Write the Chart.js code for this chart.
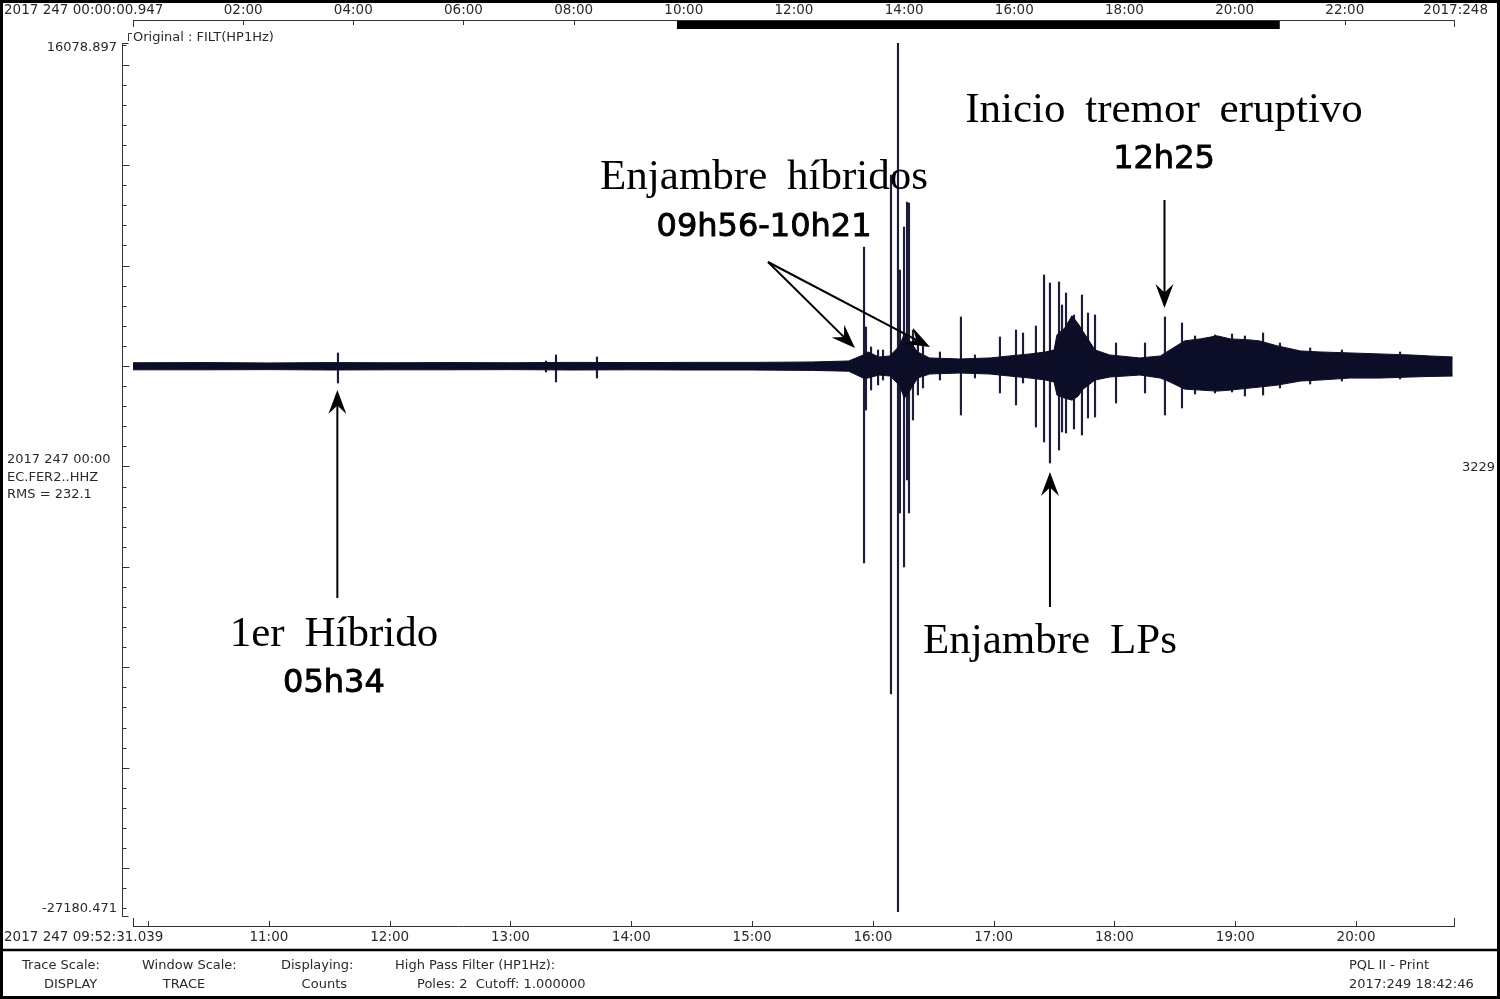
<!DOCTYPE html>
<html>
<head>
<meta charset="utf-8">
<script src="https://cdn.jsdelivr.net/npm/chart.js@4.4.0/dist/chart.umd.min.js"></script>
<style>
  html, body { margin: 0; padding: 0; background: #fff; }
</style>
</head>
<body>
<canvas id="chart" width="1500" height="999"></canvas>
<script>
// time in hours UTC (day 247), amplitude in counts
const startHour = 9.8753;   // 09:52:31.039
const endHour = 20.819;
const yMax = 16078.897;
const yMin = -27180.471;

// envelope of the continuous trace
const envTimes = [9.8753, 10.5, 11.0, 11.5, 12.0, 12.5, 13.0, 13.5, 14.0, 14.5, 15.0, 15.5, 15.8,
  15.92, 15.96, 16.05, 16.14, 16.22, 16.26, 16.30, 16.37, 16.47, 16.72, 16.97, 17.13, 17.30, 17.43,
  17.50, 17.524, 17.59, 17.648, 17.70, 17.731, 17.839, 17.96, 18.21, 18.38, 18.46, 18.58, 18.71,
  18.85, 18.96, 19.12, 19.20, 19.35, 19.54, 19.70, 19.95, 20.20, 20.45, 20.61, 20.80];
const envUpper = [160, 170, 150, 170, 160, 170, 160, 180, 170, 180, 180, 200, 250,
  550, 700, 450, 500, 1000, 1600, 1300, 700, 400, 350, 400, 500, 600, 700,
  800, 1550, 1900, 2500, 2100, 1800, 800, 550, 400, 500, 800, 1250, 1350,
  1500, 1350, 1300, 1250, 1000, 750, 700, 650, 600, 550, 500, 450];
const envLower = [-190, -190, -180, -200, -190, -190, -180, -200, -190, -200, -200, -220, -260,
  -600, -600, -450, -500, -950, -1600, -1300, -600, -400, -350, -400, -500, -600, -700,
  -800, -1450, -1600, -1700, -1500, -1200, -700, -550, -450, -600, -800, -1150, -1200,
  -1250, -1200, -1100, -1050, -950, -750, -700, -600, -600, -550, -520, -500];

// individual spikes (events)
const spikeTimes = [11.572, 13.294, 13.377, 13.716, 15.927, 15.943, 15.985, 16.043, 16.084, 16.150,
  16.208, 16.224, 16.258, 16.283, 16.299, 16.332, 16.373, 16.415, 16.555, 16.729, 16.845,
  17.052, 17.185, 17.243, 17.350, 17.417, 17.466, 17.541, 17.566, 17.599, 17.665, 17.731,
  17.781, 17.839, 18.013, 18.253, 18.418, 18.559, 18.667, 18.832, 18.973, 19.080, 19.230,
  19.370, 19.620, 19.883, 20.364];
const spikeTop = [647, 249, 548, 448, 5924, 1941, 946, 796, 796, 9508,
  16078.897, 4779, 6919, 8164, 8114, 1792, 1294, 1045, 697, 2439, 548,
  1444, 1792, 1643, 1991, 4530, 4132, 4182, 3037, 3634, 2539, 3534,
  2638, 2539, 1145, 1145, 2439, 2141, 1493, 1543, 1593, 1493, 1643,
  1145, 896, 796, 697];
const spikeBottom = [-846, -299, -796, -597, -9807, -2190, -1195, -946, -697, -16328,
  -27180.471, -7318, -10006, -5675, -7318, -2688, -1444, -1095, -697, -2439, -597,
  -1344, -1941, -846, -3037, -3783, -4829, -4182, -3285, -3335, -3136, -3435,
  -2589, -2539, -1842, -1344, -2439, -2091, -1394, -1344, -1294, -1493, -1444,
  -1095, -896, -747, -647];

// axis ticks
const topTickHours = [2, 4, 6, 8, 10, 12, 14, 16, 18, 20, 22];
const topTickLabels = ["02:00", "04:00", "06:00", "08:00", "10:00", "12:00", "14:00", "16:00", "18:00", "20:00", "22:00"];
const bottomTickHours = [10, 11, 12, 13, 14, 15, 16, 17, 18, 19, 20];
const bottomTickLabels = ["", "11:00", "12:00", "13:00", "14:00", "15:00", "16:00", "17:00", "18:00", "19:00", "20:00"];

// annotations (hour, counts)
const notes = [
  { text: "1er Híbrido", sub: "05h34", x: 11.539, y: -13391, ySub: -15830 },
  { text: "Enjambre híbridos", sub: "09h56-10h21", x: 15.099, y: 9359, ySub: 6870 },
  { text: "Inicio tremor eruptivo", sub: "12h25", x: 18.410, y: 12694, ySub: 10255 },
  { text: "Enjambre LPs", sub: "", x: 17.466, y: -13739, ySub: 0 }
];
const arrows = [
  [11.567, -11549, 11.567, -1195],
  [15.132, 5177, 15.852, 896],
  [15.132, 5177, 16.473, 946],
  [17.466, -11997, 17.466, -5277],
  [18.414, 8263, 18.414, 2887]
];

const traceColor = "#0c0d26";
const textColor = "#2a2a2a";
const sans = "'DejaVu Sans', sans-serif";

function drawArrow(ctx, x1, y1, x2, y2) {
  const ang = Math.atan2(y2 - y1, x2 - x1);
  const L = 24, W = 9;
  ctx.save();
  ctx.strokeStyle = "#000";
  ctx.fillStyle = "#000";
  ctx.lineWidth = 2;
  ctx.beginPath();
  ctx.moveTo(x1, y1);
  ctx.lineTo(x2 - Math.cos(ang) * L * 0.6, y2 - Math.sin(ang) * L * 0.6);
  ctx.stroke();
  ctx.translate(x2, y2);
  ctx.rotate(ang);
  ctx.beginPath();
  ctx.moveTo(0, 0);
  ctx.lineTo(-L, -W);
  ctx.lineTo(-L * 0.65, 0);
  ctx.lineTo(-L, W);
  ctx.closePath();
  ctx.fill();
  ctx.restore();
}

const seismoFrame = {
  id: "seismoFrame",
  beforeDraw(chart) {
    const ctx = chart.ctx;
    ctx.save();
    ctx.fillStyle = "#fff";
    ctx.fillRect(0, 0, chart.width, chart.height);
    ctx.restore();
  },
  afterDraw(chart) {
    const ctx = chart.ctx;
    const x = chart.scales.x, xd = chart.scales.xDay, y = chart.scales.y;
    const area = chart.chartArea;
    const L = Math.round(area.left), R = Math.round(area.right);
    ctx.save();
    ctx.lineWidth = 1;
    ctx.strokeStyle = "#333";
    ctx.fillStyle = textColor;
    ctx.font = "13.5px " + sans;
    ctx.textBaseline = "middle";

    // top day ruler
    ctx.beginPath();
    ctx.moveTo(L, 20.5); ctx.lineTo(R, 20.5);
    ctx.moveTo(L + 0.5, 20); ctx.lineTo(L + 0.5, 27);
    ctx.moveTo(R - 0.5, 20); ctx.lineTo(R - 0.5, 27);
    topTickHours.forEach(h => {
      const px = Math.round(xd.getPixelForValue(h)) + 0.5;
      ctx.moveTo(px, 20); ctx.lineTo(px, 25);
    });
    ctx.stroke();
    ctx.fillStyle = "#000";
    const b0 = xd.getPixelForValue(startHour), b1 = xd.getPixelForValue(endHour);
    ctx.fillRect(b0, 21, b1 - b0, 8);
    ctx.fillStyle = textColor;
    ctx.textAlign = "center";
    topTickHours.forEach((h, i) => ctx.fillText(topTickLabels[i], xd.getPixelForValue(h), 10));
    ctx.textAlign = "left";
    ctx.fillText("2017 247 00:00:00.947", 4, 10);
    ctx.textAlign = "right";
    ctx.fillText("2017:248", 1488, 10);

    // y axis
    const ax = 122.5;
    const yt = Math.round(y.getPixelForValue(yMax)), yb = Math.round(y.getPixelForValue(yMin));
    ctx.beginPath();
    ctx.moveTo(ax, yt); ctx.lineTo(ax, yb + 5);
    ctx.moveTo(ax, yt + 0.5); ctx.lineTo(ax + 6, yt + 0.5);
    ctx.moveTo(ax, yb + 4.5); ctx.lineTo(ax + 6, yb + 4.5);
    for (let v = -27000; v <= 16000; v += 1000) {
      const py = Math.round(y.getPixelForValue(v)) + 0.5;
      ctx.moveTo(ax, py); ctx.lineTo(ax + (v % 5000 === 0 ? 7 : 4), py);
    }
    // small bracket before trace title
    ctx.moveTo(128.5, 41); ctx.lineTo(128.5, 33.5); ctx.lineTo(132, 33.5);
    ctx.stroke();
    ctx.font = "13px " + sans;
    ctx.textAlign = "right";
    ctx.fillText("16078.897", 117, yt + 5);
    ctx.fillText("-27180.471", 117, yb - 3);
    ctx.fillText("3229", 1495, 468);
    ctx.textAlign = "left";
    ctx.fillText("Original : FILT(HP1Hz)", 133, 38);
    ctx.fillText("2017 247 00:00", 7, 460);
    ctx.fillText("EC.FER2..HHZ", 7, 478);
    ctx.fillText("RMS = 232.1", 7, 495);

    // bottom time axis
    ctx.font = "13.5px " + sans;
    const by = 926.5;
    ctx.beginPath();
    ctx.moveTo(L, by); ctx.lineTo(R, by);
    ctx.moveTo(L + 0.5, by); ctx.lineTo(L + 0.5, 918);
    ctx.moveTo(R - 0.5, by); ctx.lineTo(R - 0.5, 918);
    bottomTickHours.forEach(h => {
      const px = Math.round(x.getPixelForValue(h)) + 0.5;
      ctx.moveTo(px, by); ctx.lineTo(px, 921);
    });
    ctx.stroke();
    ctx.textAlign = "center";
    bottomTickHours.forEach((h, i) => {
      if (bottomTickLabels[i]) ctx.fillText(bottomTickLabels[i], x.getPixelForValue(h), 937);
    });
    ctx.textAlign = "left";
    ctx.fillText("2017 247 09:52:31.039", 4, 937);

    // footer
    ctx.strokeStyle = "#000";
    ctx.lineWidth = 2.5;
    ctx.beginPath();
    ctx.moveTo(0, 950); ctx.lineTo(1500, 950);
    ctx.stroke();
    ctx.lineWidth = 3;
    ctx.strokeRect(1.5, 1.5, 1497, 996);
    ctx.font = "13px " + sans;
    ctx.textAlign = "left";
    ctx.fillText("Trace Scale:", 22, 966);
    ctx.fillText("Window Scale:", 142, 966);
    ctx.fillText("Displaying:", 281, 966);
    ctx.fillText("High Pass Filter (HP1Hz):", 395, 966);
    ctx.fillText("PQL II - Print", 1349, 966);
    ctx.fillText("DISPLAY", 44, 985);
    ctx.fillText("Poles: 2  Cutoff: 1.000000", 417, 985);
    ctx.fillText("2017:249 18:42:46", 1349, 985);
    ctx.textAlign = "center";
    ctx.fillText("TRACE", 184, 985);
    ctx.textAlign = "right";
    ctx.fillText("Counts", 347, 985);

    // annotations
    arrows.forEach(a => drawArrow(ctx, x.getPixelForValue(a[0]), y.getPixelForValue(a[1]),
      x.getPixelForValue(a[2]), y.getPixelForValue(a[3])));
    ctx.fillStyle = "#000";
    ctx.strokeStyle = "#000";
    ctx.textAlign = "center";
    notes.forEach(n => {
      ctx.font = "43px 'Liberation Serif', serif";
      ctx.wordSpacing = "9px";
      ctx.fillText(n.text, x.getPixelForValue(n.x), y.getPixelForValue(n.y));
      ctx.wordSpacing = "0px";
      if (n.sub) {
        ctx.font = "32px " + sans;
        ctx.lineWidth = 0.9;
        ctx.fillText(n.sub, x.getPixelForValue(n.x), y.getPixelForValue(n.ySub));
        ctx.strokeText(n.sub, x.getPixelForValue(n.x), y.getPixelForValue(n.ySub));
      }
    });
    ctx.restore();
  }
};

const ctx = document.getElementById("chart");

const config = {
  type: "bar",
  data: {
    datasets: [{
      type: "line",
      label: "upper",
      data: envTimes.map((t, i) => ({ x: t, y: envUpper[i] })),
      borderColor: traceColor,
      backgroundColor: traceColor,
      borderWidth: 1,
      pointRadius: 0,
      tension: 0,
      fill: "+1"
    }, {
      type: "line",
      label: "lower",
      data: envTimes.map((t, i) => ({ x: t, y: envLower[i] })),
      borderColor: traceColor,
      borderWidth: 1,
      pointRadius: 0,
      tension: 0,
      fill: false
    }, {
      type: "bar",
      label: "spikes",
      data: spikeTimes.map((t, i) => ({ x: t, y: [spikeBottom[i], spikeTop[i]] })),
      backgroundColor: "#1c1d38",
      barThickness: 1.5,
      grouped: false
    }]
  },
  options: {
    responsive: false,
    animation: false,
    layout: { padding: { left: 133, right: 45, top: 43, bottom: 87 } },
    scales: {
      x: { type: "linear", min: startHour, max: endHour, offset: false, display: false },
      xDay: { type: "linear", axis: "x", min: 0.000263, max: 24.000263, offset: false, display: false },
      y: { type: "linear", min: yMin, max: yMax, display: false }
    },
    plugins: {
      legend: { display: false },
      tooltip: { enabled: false }
    }
  },
  plugins: [seismoFrame]
};

const chartLine = new Chart(ctx, config);
</script>
</body>
</html>
